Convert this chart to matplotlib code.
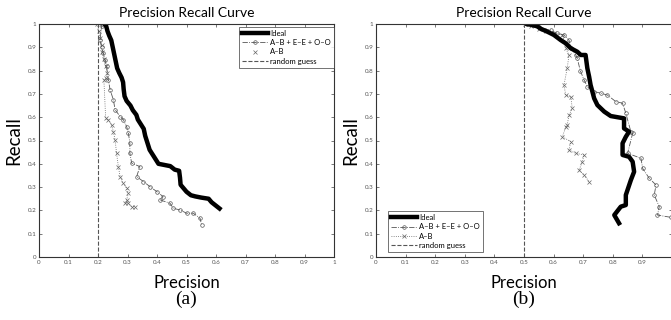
import matplotlib.pyplot as plt
from matplotlib.lines import Line2D

# ---- panel (a) ----
ideal_a_p = [0.222, 0.228, 0.232, 0.238, 0.245, 0.25, 0.255, 0.26, 0.265, 0.272, 0.28, 0.285,
             0.287, 0.29, 0.297, 0.31, 0.318, 0.33, 0.335, 0.345, 0.355, 0.36, 0.365, 0.37,
             0.375, 0.385, 0.395, 0.405, 0.425, 0.445, 0.46, 0.475, 0.478, 0.48, 0.49, 0.50,
             0.515, 0.53, 0.55, 0.575, 0.585, 0.60, 0.612]
ideal_a_r = [1.0, 0.99, 0.97, 0.95, 0.93, 0.90, 0.87, 0.84, 0.81, 0.79, 0.77, 0.75,
             0.72, 0.69, 0.67, 0.65, 0.63, 0.61, 0.59, 0.57, 0.55, 0.52, 0.50, 0.48,
             0.46, 0.44, 0.42, 0.40, 0.395, 0.39, 0.375, 0.37, 0.34, 0.31, 0.295, 0.28,
             0.265, 0.26, 0.255, 0.25, 0.235, 0.22, 0.208]

abeo_a_p = [0.215, 0.212, 0.207, 0.212, 0.218, 0.224, 0.229, 0.235, 0.241, 0.252, 0.258,
            0.275, 0.286, 0.297, 0.303, 0.308, 0.308, 0.314, 0.342, 0.331, 0.354, 0.376,
            0.399, 0.421, 0.41, 0.444, 0.455, 0.478, 0.50, 0.523, 0.546, 0.551]
abeo_a_r = [1.0, 0.99, 0.933, 0.90, 0.875, 0.845, 0.818, 0.761, 0.718, 0.675, 0.632,
            0.603, 0.589, 0.56, 0.532, 0.489, 0.446, 0.403, 0.388, 0.345, 0.324, 0.302,
            0.281, 0.259, 0.245, 0.231, 0.209, 0.202, 0.188, 0.188, 0.166, 0.138]

ab_a_p = [0.198, 0.202, 0.207, 0.212, 0.215, 0.22, 0.226, 0.232, 0.228, 0.22, 0.226,
          0.235, 0.246, 0.252, 0.258, 0.263, 0.269, 0.275, 0.286, 0.297, 0.303, 0.297,
          0.292, 0.303, 0.314, 0.325]
ab_a_r = [1.0, 0.97, 0.94, 0.91, 0.88, 0.85, 0.82, 0.79, 0.77, 0.76, 0.595,
          0.588, 0.567, 0.538, 0.502, 0.445, 0.388, 0.345, 0.316, 0.295, 0.273, 0.245,
          0.23, 0.23, 0.216, 0.216]

# ---- panel (b) ----
ideal_b_p = [0.51, 0.53, 0.545, 0.556, 0.579, 0.601, 0.624, 0.641, 0.658, 0.68, 0.692,
             0.708, 0.714, 0.72, 0.725, 0.731, 0.737, 0.748, 0.771, 0.793, 0.838, 0.838,
             0.855, 0.844, 0.833, 0.833, 0.855, 0.867, 0.872, 0.861, 0.844, 0.844, 0.827,
             0.805, 0.821]
ideal_b_r = [1.0, 0.995, 0.99, 0.98, 0.967, 0.953, 0.931, 0.917, 0.896, 0.881, 0.867,
             0.867, 0.81, 0.774, 0.738, 0.71, 0.681, 0.652, 0.624, 0.605, 0.595, 0.552,
             0.538, 0.516, 0.488, 0.438, 0.43, 0.409, 0.366, 0.33, 0.266, 0.223, 0.216,
             0.18, 0.145]

abeo_b_p = [0.51, 0.53, 0.55, 0.57, 0.59, 0.61, 0.635, 0.652, 0.658, 0.675, 0.68, 0.69,
            0.703, 0.714, 0.737, 0.759, 0.782, 0.81, 0.833, 0.844, 0.861, 0.867, 0.85,
            0.895, 0.901, 0.923, 0.946, 0.94, 0.957, 0.951, 0.997, 1.02]
abeo_b_r = [1.0, 0.995, 0.985, 0.975, 0.974, 0.96, 0.953, 0.931, 0.896, 0.867, 0.853, 0.80,
            0.76, 0.731, 0.71, 0.703, 0.695, 0.667, 0.66, 0.617, 0.538, 0.531, 0.445,
            0.424, 0.38, 0.338, 0.309, 0.266, 0.216, 0.18, 0.17, 0.17]

ab_b_p = [0.505, 0.525, 0.55, 0.575, 0.60, 0.63, 0.641, 0.652, 0.646, 0.635, 0.641, 0.658,
          0.663, 0.652, 0.646, 0.641, 0.63, 0.658, 0.652, 0.675, 0.703, 0.697, 0.686,
          0.703, 0.72]
ab_b_r = [1.0, 0.99, 0.98, 0.97, 0.96, 0.953, 0.896, 0.867, 0.81, 0.738, 0.695, 0.688,
          0.638, 0.609, 0.567, 0.559, 0.516, 0.495, 0.459, 0.445, 0.438, 0.409, 0.373,
          0.352, 0.323]

guess_a = 0.2
guess_b = 0.5
ticks = [0, 0.1, 0.2, 0.3, 0.4, 0.5, 0.6, 0.7, 0.8, 0.9, 1]
tick_labels = ['0', '0.1', '0.2', '0.3', '0.4', '0.5', '0.6', '0.7', '0.8', '0.9', '1']
names = ['Ideal', 'A\u2013B + E\u2013E + O\u2013O', 'A\u2013B', 'random guess']

plt.rcParams['font.family'] = ['Lato', 'DejaVu Sans']

fig = plt.figure(figsize=(6.71, 3.2), dpi=100)
ax_a = fig.add_axes([39/671, 63/320, 295/671, 233/320])
ax_b = fig.add_axes([376/671, 63/320, 296/671, 233/320])

ideal_kw = dict(color='black', lw=3.2, solid_joinstyle='round')
abeo_kw = dict(color='#555555', lw=0.6, ls='-.', marker='o', ms=2.6, mfc='none', mew=0.5)
ab_kw = dict(color='#666666', lw=0.6, ls=':', marker='x', ms=2.2, mew=0.5)
guess_kw = dict(color='#555555', lw=0.8, ls='--')


def panel(ax, ip, ir, ep, er, bp, br, g, letter, ab_line):
    ax.plot(bp, br, **ab_kw)
    ax.plot(ep, er, **abeo_kw)
    ax.plot(ip, ir, **ideal_kw)
    ax.plot([g, g], [0, 1], **guess_kw)
    ax.set_xlim(0, 1)
    ax.set_ylim(0, 1)
    ax.set_xticks(ticks)
    ax.set_xticklabels(tick_labels)
    ax.set_yticks(ticks)
    ax.set_yticklabels(tick_labels)
    ax.tick_params(direction='in', length=2, width=0.5, labelsize=4.5,
                   labelcolor='#555555', color='#444444', pad=2, top=True, right=True)
    for s in ax.spines.values():
        s.set_color('#333333')
        s.set_linewidth(0.8)
    ax.set_title('Precision Recall Curve', fontsize=10, pad=5)
    ax.set_xlabel('Precision', fontsize=12, labelpad=7)
    ax.set_ylabel('Recall', fontsize=13.5, labelpad=4)
    ax.text(0.5, -0.18, letter, transform=ax.transAxes, ha='center', va='center',
            fontsize=14, family='Liberation Serif')
    if ab_line:
        ab_handle = Line2D([], [], **ab_kw)
    else:
        ab_handle = Line2D([], [], color='#666666', ls='none', marker='x', ms=2.2, mew=0.5)
    handles = [Line2D([], [], **ideal_kw), Line2D([], [], **abeo_kw), ab_handle,
               Line2D([], [], **guess_kw)]
    return handles


h = panel(ax_a, ideal_a_p, ideal_a_r, abeo_a_p, abeo_a_r, ab_a_p, ab_a_r, guess_a, '(a)', False)
leg = ax_a.legend(h, names, loc='upper right', bbox_to_anchor=(1.0, 0.988), borderaxespad=0,
                  fontsize=5.5, fancybox=False, edgecolor='#333333', borderpad=0.4,
                  labelspacing=0.3, handlelength=3.4, handletextpad=0.3)
leg.get_frame().set_linewidth(0.6)

h = panel(ax_b, ideal_b_p, ideal_b_r, abeo_b_p, abeo_b_r, ab_b_p, ab_b_r, guess_b, '(b)', True)
leg = ax_b.legend(h, names, loc='lower left', bbox_to_anchor=(12/296, 5/233), borderaxespad=0,
                  fontsize=5.5, fancybox=False, edgecolor='#333333', borderpad=0.4,
                  labelspacing=0.3, handlelength=3.4, handletextpad=0.3)
leg.get_frame().set_linewidth(0.6)
ax_b.spines['right'].set_visible(False)
ax_b.set_xticklabels(tick_labels[:-1] + [''])

fig.savefig('out.png', dpi=100)
